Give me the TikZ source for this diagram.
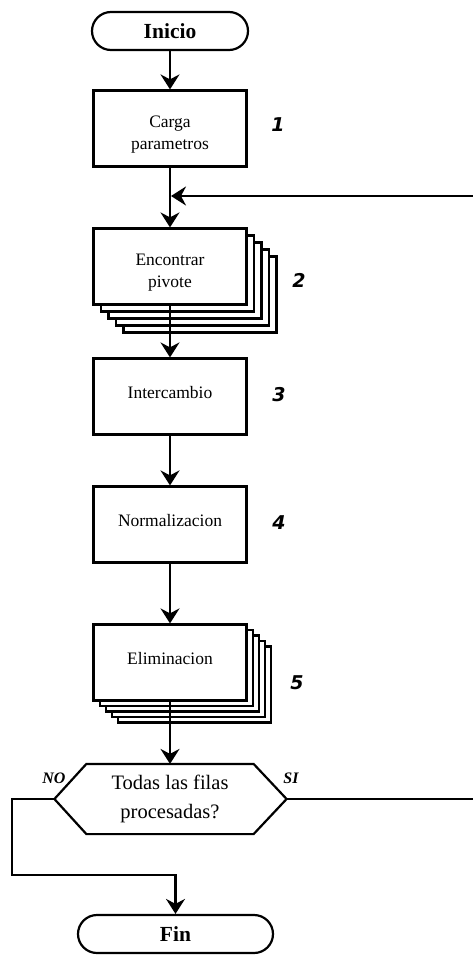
\documentclass[tikz,border=0pt]{standalone}
\usepackage{fontspec}
\setmainfont{Liberation Serif}
\newfontfamily\numfont{DejaVu Sans}
\usetikzlibrary{arrows.meta,calc,shadows}

\begin{document}
\begin{tikzpicture}[x=1pt,y=-1pt,line width=2.2pt,
  flow/.style={-{Stealth[length=15pt,width=19pt,inset=5pt]}},
  proc/.style={draw,fill=white,minimum width=153pt,minimum height=76pt,
    inner sep=0pt},
  caption/.style 2 args={label={[align=center,font=\fontsize{17.5}{22}\selectfont,
    yshift=#1]center:#2}},
  term/.style={draw,rounded corners=19pt,minimum height=38pt,inner sep=0pt,
    font=\fontsize{21.5}{24}\selectfont\bfseries},
  layer/.style 2 args={general shadow={shadow xshift=#1,shadow yshift=#2,
    fill=white,draw=black,line width=2.2pt}},
  stackA/.style={layer={30pt}{-28pt},layer={22.5pt}{-21pt},
    layer={15pt}{-14pt},layer={7.5pt}{-7pt}},
  stackB/.style={layer={24.8pt}{-22pt},layer={18.6pt}{-16.5pt},
    layer={12.4pt}{-11pt},layer={6.2pt}{-5.5pt}},
  numlabel/.style={font=\numfont\bfseries\itshape\fontsize{19}{20}\selectfont},
  answer/.style={font=\bfseries\itshape\fontsize{16}{18}\selectfont}]

\useasboundingbox (0,0) rectangle (472,955);

% terminals
\node[term,minimum width=156pt] (start) at (170,31) {Inicio};
\node[term,minimum width=195pt] (end) at (175.5,934) {Fin};

% process steps
\node[proc,caption={-6pt}{Carga\\parametros}] (load) at (170,128.5) {};
\node[proc,stackA,caption={-6pt}{Encontrar\\pivote}] (pivot) at (170,266.5) {};
\node[proc,caption={4pt}{Intercambio}] (swap) at (170,396.5) {};
\node[proc,caption={4pt}{Normalizacion}] (norm) at (170,524.5) {};
\node[proc,stackB,caption={4pt}{Eliminacion}] (elim) at (170,662.5) {};

% decision hexagon
\node[minimum width=165pt,minimum height=68pt,inner sep=0pt,align=center,
  font=\fontsize{20.5}{29}\selectfont] (dec) at (170,799)
  {Todas las filas\\procesadas?};
\coordinate (noTip) at ($(dec.west)+(-32,0)$);
\coordinate (siTip) at ($(dec.east)+(33,0)$);
\draw (dec.north west) -- (dec.north east) -- (siTip) -- (dec.south east)
  -- (dec.south west) -- (noTip) -- cycle;

% step numbers
\node[numlabel] (n1) at (278,125) {1};
\node[numlabel] (n2) at (299,280) {2};
\node[numlabel] (n3) at (279,395) {3};
\node[numlabel] (n4) at (279,523) {4};
\node[numlabel] (n5) at (297,683) {5};

% branch labels
\node[answer] (no) at (54,778) {NO};
\node[answer] (si) at (291,778) {SI};

% connectors
\coordinate (join) at (171,196);
\coordinate (loopR) at (485,196);
\draw[flow] (start) -- (load);
\draw[flow] (load) -- (pivot);
\draw[flow] (pivot) -- (swap);
\draw[flow] (swap) -- (norm);
\draw[flow] (norm) -- (elim);
\draw[flow] (elim) -- (dec);
\draw[flow] (siTip) -- (loopR |- siTip) -- (loopR) -- (join);
\draw[flow] (noTip) -- (12,799) -- (12,875) -| (end.north);
\end{tikzpicture}
\end{document}
